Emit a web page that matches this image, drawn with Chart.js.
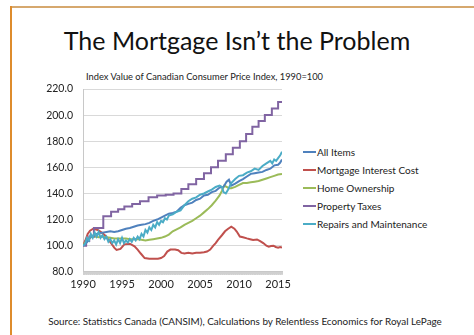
<!DOCTYPE html>
<html>
<head>
<meta charset="utf-8">
<script src="https://cdn.jsdelivr.net/npm/chart.js@4/dist/chart.umd.min.js"></script>
<style>
  html, body { margin: 0; padding: 0; background: #fff; }
  body { width: 474px; height: 335px; position: relative; overflow: hidden; font-family: Lato, "Open Sans", sans-serif; }
  #bTop { position: absolute; left: 10px; top: 6px; width: 464px; height: 2px; background: #d6a86e; }
  #bLeft { position: absolute; left: 10px; top: 6px; width: 2px; height: 329px; background: #de8c2c; }
  #title { position: absolute; left: 0; width: 474px; top: 25px; text-align: center; font-size: 25px; line-height: 30px; color: #111; }
  #sub { position: absolute; left: 86px; top: 71px; font-size: 9.3px; color: #222; }
  #src { position: absolute; width: 474px; text-align: center; left: 8px; top: 315px; font-size: 9.9px; color: #222; }
  #wrap { position: absolute; left: 40px; top: 70px; width: 252px; height: 235px; }
  #legend { position: absolute; left: 303px; top: 143px; font-size: 10px; color: #222; }
  #legend .item { height: 18px; display: flex; align-items: center; white-space: nowrap; }
  #legend .sw { width: 13px; height: 2px; margin-right: 1px; }
</style>
</head>
<body>
<div id="bTop"></div><div id="bLeft"></div>
<div id="title">The Mortgage Isn’t the Problem</div>
<div id="sub">Index Value of Canadian Consumer Price Index, 1990=100</div>
<div id="src">Source: Statistics Canada (CANSIM), Calculations by Relentless Economics for Royal LePage</div>
<div id="wrap"><canvas id="c"></canvas></div>
<div id="legend"></div>
<script>
const seriesNames = ["All Items", "Mortgage Interest Cost", "Home Ownership", "Property Taxes", "Repairs and Maintenance"];
const xTickYears = [1990, 1995, 2000, 2005, 2010, 2015];
const yTickValues = [80, 100, 120, 140, 160, 180, 200, 220];

const allItemsYears = [1990.0,1990.5,1991.0,1991.5,1992.0,1992.5,1993.0,1993.5,1994.0,1994.5,1995.0,1995.5,1996.0,1996.5,1997.0,1997.5,1998.0,1998.5,1999.0,1999.5,2000.0,2000.5,2001.0,2001.5,2002.0,2002.5,2003.0,2003.5,2004.0,2004.5,2005.0,2005.5,2006.0,2006.5,2007.0,2007.5,2008.0,2008.4,2008.7,2009.0,2009.5,2010.0,2010.5,2011.0,2011.5,2012.0,2012.5,2013.0,2013.5,2014.0,2014.5,2015.0,2015.25,2015.5];
const allItemsValues = [100,102.5,107,108.5,109.5,110,110.5,111,110.5,111,112,113,113.5,114.5,115.5,116,116.5,117.5,119,120,121.5,123,124.5,125,126,129,131,132,133,135,136,138.5,139,141,142,144.5,145,149,150.5,146,147.5,149.5,151,153,155,155.5,156,156.5,158,159,161.5,162,163.5,166];

const mortgageYears = [1990.0,1990.3,1990.6,1990.9,1991.3,1991.9,1992.4,1992.8,1993.2,1993.6,1994.0,1994.3,1994.8,1995.3,1996.0,1996.6,1997.0,1997.4,1997.9,1998.5,1999.0,1999.6,2000.0,2000.4,2000.8,2001.2,2001.8,2002.2,2002.6,2003.0,2003.5,2004.0,2004.5,2005.0,2005.5,2005.9,2006.3,2006.7,2007.0,2007.3,2007.8,2008.2,2008.6,2009.0,2009.4,2009.7,2010.1,2010.5,2011.0,2011.4,2011.8,2012.3,2012.7,2013.1,2013.5,2013.8,2014.1,2014.4,2014.7,2015.0,2015.25,2015.5];
const mortgageValues = [100,104,109,111.5,113,112,110,108,105,102,98.5,96.7,97.5,101,101.5,99.5,97,94,90.5,90,90,90,90.5,92,95.5,97,97,96.5,94.5,94,94.5,94,94.5,94.6,95,95.5,97,100,102,104.5,108,111,113,114.6,113,110.8,107,106.5,105.6,105,104.4,104.8,103.5,102,100,99.2,99.8,100,99,98.5,99,98.5];

const homeYears = [1990.0,1990.5,1991.0,1991.5,1992.0,1992.5,1993.0,1993.5,1994.0,1994.5,1995.0,1995.5,1996.0,1996.5,1997.0,1997.5,1998.0,1998.5,1999.0,1999.5,2000.0,2000.5,2001.0,2001.5,2002.0,2002.5,2003.0,2003.5,2004.0,2004.5,2005.0,2005.5,2006.0,2006.5,2007.0,2007.5,2007.8,2008.1,2008.4,2008.7,2009.0,2009.5,2010.0,2010.5,2011.0,2011.5,2012.0,2012.5,2013.0,2013.5,2014.0,2014.5,2015.0,2015.5];
const homeValues = [100,104,106.5,107,106.5,107,106.5,106,105.5,105.5,105.5,105.5,105,105,105,104.5,104,104.5,105,105.5,106,107,108.5,111,112.5,114,116,117.5,119,121,123,125.5,128,131,134.5,138.5,142,146,145,144,144,145,146.5,148,148,148.5,149,149.5,150.5,151.5,152.5,153.5,154.5,155];

const taxYears = [1990.0,1990.4,1990.8,1991.4,1992.6,1993.6,1994.5,1995.3,1996.3,1997.3,1998.4,1999.5,2000.6,2001.6,2002.6,2003.5,2004.5,2005.5,2006.4,2007.3,2008.3,2009.2,2010.1,2010.9,2011.7,2012.5,2013.3,2014.2,2015.0,2015.5];
const taxValues = [100,103.5,107,113.5,122.5,126,128,130,132,134,137,138.5,139,140,143.5,147,151,155.5,160,165,170,175,180,185.5,191,195.5,200,205,210,210];

const repairsYears = [1990.0,1990.25,1990.5,1990.75,1991.0,1991.25,1991.5,1991.75,1992.0,1992.25,1992.5,1992.75,1993.0,1993.25,1993.5,1993.75,1994.0,1994.25,1994.5,1994.75,1995.0,1995.25,1995.5,1995.75,1996.0,1996.25,1996.5,1996.75,1997.0,1997.25,1997.5,1997.75,1998.0,1998.25,1998.5,1998.75,1999.0,1999.25,1999.5,1999.75,2000.0,2000.25,2000.5,2000.75,2001.0,2001.5,2002.0,2002.5,2003.0,2003.5,2004.0,2004.5,2005.0,2005.5,2006.0,2006.5,2007.0,2007.5,2007.8,2008.0,2008.3,2008.6,2009.0,2009.5,2010.0,2010.5,2011.0,2011.5,2012.0,2012.5,2013.0,2013.5,2014.0,2014.25,2014.5,2014.75,2015.0,2015.25,2015.5];
const repairsValues = [100,101,106,104,109,106,110,107,110.5,106,108,105,107,103,105,102,104,101,105,102,106,102,104,102.5,105,103,106,104,107,105,109,107,112,110,114,112,116,114,118,116,119,118,121,120,123,124,126,127,131,134,136,137,139,140,141.5,143,145,146,145,141,140,143,148,151,153.5,154,156,157,159,158,161,163,165,163,166,165,167,169,172];

const colors = ["#4f81bd", "#c0504d", "#9bbb59", "#8064a2", "#4bacc6"];
const pairs = (xs, ys) => xs.map((x, i) => ({ x: x, y: ys[i] }));

const datasets = [
  { label: seriesNames[0], data: pairs(allItemsYears, allItemsValues), borderColor: colors[0], backgroundColor: colors[0], order: 1 },
  { label: seriesNames[1], data: pairs(mortgageYears, mortgageValues), borderColor: colors[1], backgroundColor: colors[1], order: 4 },
  { label: seriesNames[2], data: pairs(homeYears, homeValues), borderColor: colors[2], backgroundColor: colors[2], order: 3 },
  { label: seriesNames[3], data: pairs(taxYears, taxValues), borderColor: colors[3], backgroundColor: colors[3], stepped: true, order: 2 },
  { label: seriesNames[4], data: pairs(repairsYears, repairsValues), borderColor: colors[4], backgroundColor: colors[4], order: 0 }
];

// HTML legend built from the series names and colours
const legendEl = document.getElementById("legend");
seriesNames.forEach((name, i) => {
  const item = document.createElement("div");
  item.className = "item";
  const sw = document.createElement("span");
  sw.className = "sw";
  sw.style.background = colors[i];
  const tx = document.createElement("span");
  tx.textContent = name;
  item.appendChild(sw);
  item.appendChild(tx);
  legendEl.appendChild(item);
});

Chart.defaults.font.family = "Lato, 'Open Sans', sans-serif";
Chart.defaults.color = "#222";

new Chart(document.getElementById("c"), {
  type: "line",
  data: { datasets: datasets },
  options: {
    responsive: true,
    maintainAspectRatio: false,
    animation: false,
    elements: { point: { radius: 0 }, line: { borderWidth: 2, tension: 0 } },
    layout: { padding: { top: 19, bottom: 11, left: 0, right: 10 } },
    plugins: {
      tooltip: { enabled: false },
      legend: { display: false }
    },
    scales: {
      x: {
        type: "linear",
        min: 1990,
        max: 2015.5,
        grid: { display: true, drawOnChartArea: false, drawTicks: true, tickLength: 3, color: "#d0d0d0" },
        border: { color: "#c8c8c8" },
        ticks: {
          stepSize: 1 / 12,
          autoSkip: false,
          maxRotation: 0,
          padding: 3,
          font: { size: 11 },
          callback: function (v) {
            const r = Math.round(v);
            return (Math.abs(v - r) < 1e-6 && xTickYears.includes(r)) ? String(r) : "";
          }
        }
      },
      y: {
        min: 80,
        max: 220,
        afterFit: function (scale) { scale.width = 43; },
        grid: { color: "#d9d9d9", drawTicks: false },
        border: { color: "#c8c8c8" },
        afterBuildTicks: function (scale) { scale.ticks = yTickValues.map(v => ({ value: v })); },
        ticks: {
          padding: 10,
          font: { size: 10.5 },
          callback: function (v) { return Number(v).toFixed(1); }
        }
      }
    }
  }
});
</script>
</body>
</html>
